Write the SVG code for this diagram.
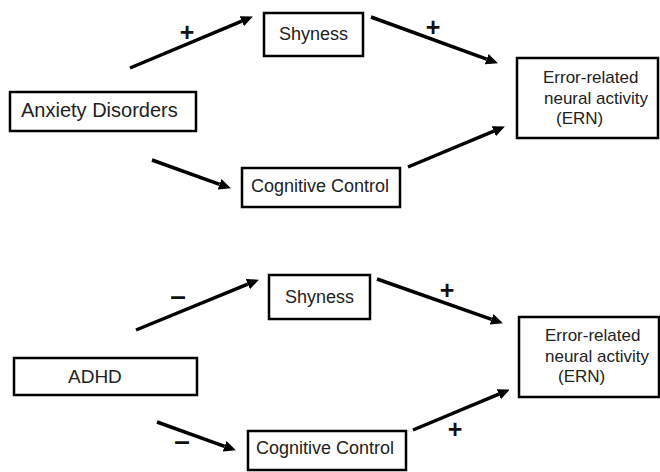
<svg xmlns="http://www.w3.org/2000/svg" width="660" height="472" viewBox="0 0 660 472">
<style>
.box{fill:#fff;stroke:#000;stroke-width:2.5}
.lbl{font-family:"Liberation Sans",Arial,sans-serif;font-size:18px;fill:#222}
.ern{font-family:"Liberation Sans",Arial,sans-serif;font-size:17px;fill:#222}
.arr{stroke:#000;stroke-width:3.5;fill:none;marker-end:url(#ah)}
.sign{font-family:"Liberation Sans",Arial,sans-serif;font-size:25px;font-weight:bold;fill:#111;text-anchor:middle}
.minus{font-family:"Liberation Sans",Arial,sans-serif;font-size:28px;font-weight:bold;fill:#111;text-anchor:middle}
</style>
<defs>
<marker id="ah" markerUnits="userSpaceOnUse" markerWidth="14" markerHeight="12" refX="0" refY="6" orient="auto" viewBox="0 0 14 12">
<path d="M0,0.5 L12,6 L0,11.5 Z" fill="#000"/>
</marker>
</defs>
<rect width="660" height="472" fill="#fff"/>

<g id="top-shyness"><rect class="box" x="264" y="13" width="99" height="43"/><text class="lbl" x="313.5" y="40" text-anchor="middle">Shyness</text></g>
<g id="top-anxiety"><rect class="box" x="10" y="92" width="186" height="39"/><text class="lbl" x="21" y="117" style="font-size:20px">Anxiety Disorders</text></g>
<g id="top-cognitive"><rect class="box" x="242" y="168" width="158" height="39"/><text class="lbl" x="251" y="192">Cognitive Control</text></g>
<g id="top-ern"><rect class="box" x="517" y="58" width="141" height="80"/><text class="ern" x="543" y="83">Error-related</text><text class="ern" x="544" y="104">neural activity</text><text class="ern" x="556" y="124">(ERN)</text></g>

<g id="bottom-shyness"><rect class="box" x="269" y="275" width="101" height="44"/><text class="lbl" x="319.5" y="303" text-anchor="middle">Shyness</text></g>
<g id="bottom-adhd"><rect class="box" x="14" y="358" width="183" height="37"/><text class="lbl" x="68" y="383" style="font-size:19px">ADHD</text></g>
<g id="bottom-cognitive"><rect class="box" x="248" y="431" width="158" height="39"/><text class="lbl" x="256" y="454">Cognitive Control</text></g>
<g id="bottom-ern"><rect class="box" x="519" y="317" width="140" height="80"/><text class="ern" x="545" y="341">Error-related</text><text class="ern" x="545" y="362">neural activity</text><text class="ern" x="558" y="382">(ERN)</text></g>

<g id="connectors">
<line class="arr" x1="130" y1="68" x2="241.8" y2="21.2"/>
<line class="arr" x1="371" y1="17" x2="486.7" y2="59.2"/>
<line class="arr" x1="152" y1="160" x2="219.6" y2="184.3"/>
<line class="arr" x1="408" y1="167" x2="493.8" y2="131.2"/>
<line class="arr" x1="136" y1="330" x2="247.8" y2="284.2"/>
<line class="arr" x1="377" y1="279" x2="491.6" y2="319.3"/>
<line class="arr" x1="157" y1="422" x2="224.6" y2="446.3"/>
<line class="arr" x1="413" y1="430" x2="498.8" y2="394.2"/>
<text class="sign" x="187" y="40.5">+</text>
<text class="sign" x="433" y="35.5">+</text>
<text class="minus" x="178" y="305">–</text>
<text class="sign" x="447" y="298.5">+</text>
<text class="minus" x="182" y="450">–</text>
<text class="sign" x="455" y="437.5">+</text>
</g>
</svg>
